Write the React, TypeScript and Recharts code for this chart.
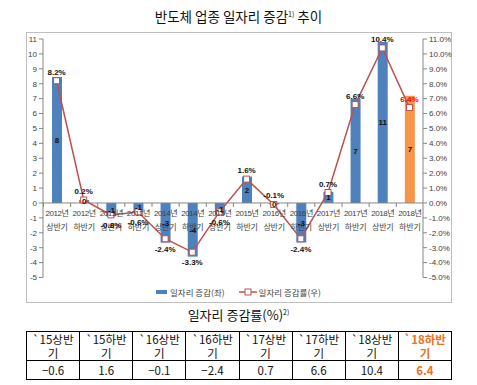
import React from "react";
import {
  ComposedChart,
  Bar,
  Line,
  XAxis,
  YAxis,
  Cell,
  LabelList,
  ReferenceLine,
} from "recharts";

const years = ["2012년", "2012년", "2013년", "2013년", "2014년", "2014년", "2015년", "2015년", "2016년", "2016년", "2017년", "2017년", "2018년", "2018년"];
const halves = ["상반기", "하반기", "상반기", "하반기", "상반기", "하반기", "상반기", "하반기", "상반기", "하반기", "상반기", "하반기", "상반기", "하반기"];
// 일자리 증감 (좌축)
const jobs = [8.45, 0.2, -0.9, -0.6, -2.66, -3.6, -0.8, 1.77, -0.1, -2.65, 0.75, 7.0, 10.8, 7.2];
// 일자리 증감률 % (우축)
const rates = [8.2, 0.2, -0.8, -0.6, -2.4, -3.3, -0.6, 1.6, -0.1, -2.4, 0.7, 6.6, 10.4, 6.4];
const leftTicks = [-5, -4, -3, -2, -1, 0, 1, 2, 3, 4, 5, 6, 7, 8, 9, 10, 11];

const tableHeads = ["`15상반기", "`15하반기", "`16상반기", "`16하반기", "`17상반기", "`17하반기", "`18상반기", "`18하반기"];
const tableValues = ["−0.6", "1.6", "−0.1", "−2.4", "0.7", "6.6", "10.4", "6.4"];

const BLUE = "#4F81BD";
const ORANGE = "#F79646";
const RED = "#C0504D";
const FONT = "'Liberation Sans', 'Noto Sans CJK KR', sans-serif";
const KFONT = "'Noto Sans CJK KR', sans-serif";

const data = years.map((y, i) => ({
  name: y + " " + halves[i],
  jobs: jobs[i],
  rate: rates[i],
}));

const BAND = 380 / data.length;

const CategoryLabel = (props: any) => {
  const { x, y, width, height, index } = props;
  const cx = x + width / 2;
  const zero = y + height;
  return (
    <g>
      <line x1={cx - BAND / 2} x2={cx - BAND / 2} y1={zero} y2={zero + 4} stroke="#868686" />
      <text x={cx} y={zero + 13} textAnchor="middle" fontSize={8} letterSpacing={-0.4} fill="#404040" fontFamily={FONT}>
        {years[index]}
      </text>
      <text x={cx} y={zero + 27} textAnchor="middle" fontSize={8} letterSpacing={-0.2} fill="#404040" fontFamily={KFONT}>
        {halves[index]}
      </text>
    </g>
  );
};

const BarValue = (props: any) => {
  const { x, y, width, height, value } = props;
  return (
    <text x={x + width / 2} y={y + height / 2 + 3} textAnchor="middle" fontSize={8} fontWeight="bold" fill="#111" fontFamily={FONT}>
      {String(Math.round(value) || 0)}
    </text>
  );
};

const RateValue = (props: any) => {
  const { x, y, value, index } = props;
  const below = value < -0.3;
  return (
    <text
      x={x}
      y={below ? y + 13 : y - 6}
      textAnchor="middle"
      fontSize={8}
      fontWeight="bold"
      fill={index === rates.length - 1 ? "#FF0000" : "#111"}
      fontFamily={FONT}
    >
      {value.toFixed(1) + "%"}
    </text>
  );
};

const SquareDot = (props: any) => {
  const { cx, cy, index } = props;
  return <rect key={index} x={cx - 3} y={cy - 3} width={6} height={6} fill="#fff" stroke={RED} strokeWidth={1} />;
};

export default function App() {
  return (
    <div style={{ position: "absolute", left: 0, top: 0, width: 477, height: 385, background: "#fff", fontFamily: KFONT }}>
      <div style={{ position: "absolute", top: 6, left: 0, width: 477, textAlign: "center", fontSize: 13.5, color: "#111" }}>
        반도체 업종 일자리 증감<sup style={{ fontSize: 7 }}>1)</sup> 추이
      </div>
      <div style={{ position: "absolute", left: 26, top: 32, width: 424, height: 269, border: "1px solid #BFBFBF" }} />
      <div style={{ position: "absolute", left: 0, top: 0 }}>
        <ComposedChart width={477} height={310} data={data} margin={{ top: 39, right: 14, bottom: 32.5, left: 13 }}>
          <XAxis dataKey="name" hide />
          <YAxis
            yAxisId="l"
            domain={[-5, 11]}
            ticks={leftTicks}
            interval={0}
            width={30}
            tick={{ fontSize: 8, fill: "#404040", fontFamily: FONT }}
            axisLine={{ stroke: "#868686" }}
            tickLine={{ stroke: "#868686" }}
            tickSize={4}
          />
          <YAxis
            yAxisId="r"
            orientation="right"
            domain={[-5, 11]}
            ticks={leftTicks}
            interval={0}
            width={40}
            tickFormatter={(v: number) => v.toFixed(1) + "%"}
            tick={{ fontSize: 8, fill: "#404040", fontFamily: FONT }}
            axisLine={{ stroke: "#868686" }}
            tickLine={{ stroke: "#868686" }}
            tickSize={4}
          />
          <ReferenceLine yAxisId="l" y={0} stroke="#868686" />
          <Bar yAxisId="l" dataKey="jobs" barSize={10} isAnimationActive={false}>
            {data.map((d, i) => (
              <Cell key={d.name + i} fill={i === data.length - 1 ? ORANGE : BLUE} />
            ))}
            <LabelList dataKey="jobs" content={CategoryLabel} />
            <LabelList dataKey="jobs" content={BarValue} />
          </Bar>
          <Line
            yAxisId="r"
            dataKey="rate"
            stroke={RED}
            strokeWidth={1.5}
            dot={SquareDot}
            isAnimationActive={false}
          >
            <LabelList dataKey="rate" content={RateValue} />
          </Line>
        </ComposedChart>
      </div>
      <div style={{ position: "absolute", top: 286, left: 0, width: 477, display: "flex", justifyContent: "center", alignItems: "center", fontSize: 8.5, color: "#404040" }}>
        <span style={{ display: "inline-block", width: 11, height: 4, background: BLUE, marginRight: 3 }} />
        <span style={{ marginRight: 14 }}>일자리 증감(좌)</span>
        <svg width={18} height={8} style={{ marginRight: 2 }}>
          <line x1={0} x2={18} y1={4} y2={4} stroke={RED} strokeWidth={1.5} />
          <rect x={6} y={1} width={6} height={6} fill="#fff" stroke={RED} />
        </svg>
        <span>일자리 증감률(우)</span>
      </div>
      <div style={{ position: "absolute", top: 305, left: 0, width: 477, textAlign: "center", fontSize: 13, color: "#111" }}>
        일자리 증감률(%)<sup style={{ fontSize: 7 }}>2)</sup>
      </div>
      <table
        style={{
          position: "absolute",
          left: 26,
          top: 331,
          width: 426,
          borderCollapse: "collapse",
          tableLayout: "fixed",
          fontSize: 11.5,
          fontFamily: KFONT,
          color: "#111",
        }}
      >
        <tbody>
          <tr style={{ height: 29 }}>
            {tableHeads.map((h, i) => {
              const last = i === tableHeads.length - 1;
              return (
                <td
                  key={h}
                  style={{
                    border: "1.5px solid #000",
                    textAlign: "center",
                    padding: 0,
                    lineHeight: "14px",
                    color: last ? "#F07020" : "#111",
                    fontWeight: last ? "bold" : "normal",
                  }}
                >
                  {h.slice(0, -1)}
                  <br />
                  {h.slice(-1)}
                </td>
              );
            })}
          </tr>
          <tr style={{ height: 19 }}>
            {tableValues.map((v, i) => {
              const last = i === tableValues.length - 1;
              return (
                <td
                  key={i}
                  style={{
                    border: "1.5px solid #000",
                    textAlign: "center",
                    padding: 0,
                    lineHeight: "16px",
                    color: last ? "#F07020" : "#111",
                    fontWeight: last ? "bold" : "normal",
                  }}
                >
                  {v}
                </td>
              );
            })}
          </tr>
        </tbody>
      </table>
    </div>
  );
}
